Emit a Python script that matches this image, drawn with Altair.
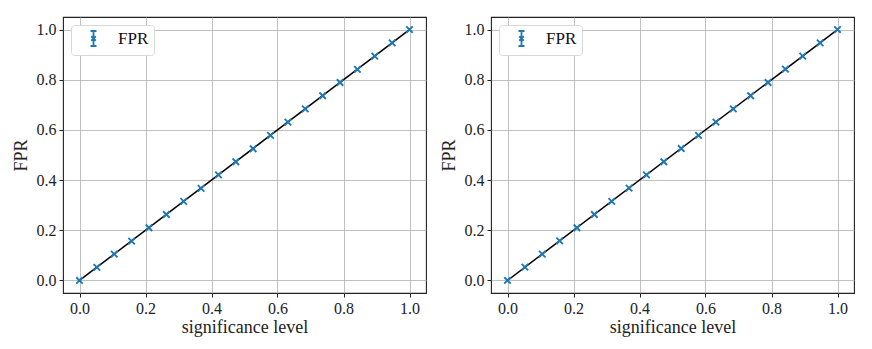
import altair as alt
import pandas as pd

sig = [0.0, 0.0526, 0.1053, 0.1579, 0.2105, 0.2632, 0.3158, 0.3684, 0.4211, 0.4737,
       0.5263, 0.5789, 0.6316, 0.6842, 0.7368, 0.7895, 0.8421, 0.8947, 0.9474, 1.0]
fpr_left = [0.0, 0.052, 0.105, 0.157, 0.210, 0.263, 0.315, 0.367, 0.421, 0.473,
            0.525, 0.578, 0.631, 0.684, 0.736, 0.789, 0.841, 0.894, 0.947, 1.0]
fpr_right = [0.0, 0.053, 0.105, 0.158, 0.210, 0.263, 0.315, 0.368, 0.421, 0.473,
             0.526, 0.578, 0.631, 0.684, 0.736, 0.789, 0.842, 0.894, 0.947, 1.0]
err_left = [0.0, 0.003, 0.004, 0.004, 0.004, 0.004, 0.005, 0.005, 0.005, 0.005,
            0.005, 0.005, 0.005, 0.005, 0.004, 0.004, 0.004, 0.003, 0.002, 0.0]
err_right = [0.0, 0.003, 0.004, 0.004, 0.004, 0.004, 0.005, 0.005, 0.005, 0.005,
             0.005, 0.005, 0.005, 0.005, 0.004, 0.004, 0.004, 0.003, 0.002, 0.0]
diag_x = [0.0, 1.0]

BLUE = "#1f77b4"
FONT = "Liberation Serif"
XSHAPE = "M-1,-1L1,1M-1,1L1,-1"
LEG_SYMBOL = "M0,-1L0,1M-0.4,-1L0.4,-1M-0.4,1L0.4,1M-0.3,-0.3L0.3,0.3M-0.3,0.3L0.3,-0.3"

xscale = alt.Scale(domain=[-0.05, 1.05], nice=False, zero=False)
yscale = alt.Scale(domain=[-0.05, 1.05], nice=False, zero=False)
ticks = [0.0, 0.2, 0.4, 0.6, 0.8, 1.0]


def panel(fpr, err):
    df = pd.DataFrame({
        "sig": sig,
        "fpr": fpr,
        "lo": [f - e for f, e in zip(fpr, err)],
        "hi": [f + e for f, e in zip(fpr, err)],
        "series": ["FPR"] * len(sig),
    })
    dline = pd.DataFrame({"x": diag_x, "y": diag_x})
    xax = alt.Axis(values=ticks, format=".1f", title="significance level")
    yax = alt.Axis(values=ticks, format=".1f", title="FPR")
    line = alt.Chart(dline).mark_line(color="black", strokeWidth=1.5).encode(
        x=alt.X("x:Q", scale=xscale, axis=xax),
        y=alt.Y("y:Q", scale=yscale, axis=yax),
    )
    bars = alt.Chart(df).mark_rule(color=BLUE, strokeWidth=1.2).encode(
        x="sig:Q", y="lo:Q", y2="hi:Q"
    )
    pts = alt.Chart(df).mark_point(shape=XSHAPE, filled=False, strokeWidth=1.9, size=42, opacity=1).encode(
        x="sig:Q",
        y="fpr:Q",
        color=alt.Color(
            "series:N",
            scale=alt.Scale(domain=["FPR"], range=[BLUE]),
            legend=alt.Legend(
                title=None, orient="top-left", offset=8,
                fillColor="white", strokeColor="#d8d8d8", cornerRadius=3,
                padding=5, symbolType=LEG_SYMBOL, symbolSize=225,
                symbolStrokeWidth=1.8, symbolFillColor="transparent",
                symbolOffset=9, labelOffset=16,
                labelFont=FONT, labelFontSize=17, labelColor="#111111",
            ),
        ),
    )
    return alt.layer(line, bars, pts).properties(width=363, height=276)


chart = alt.hconcat(panel(fpr_left, err_left), panel(fpr_right, err_right), spacing=12).resolve_legend(
    color="independent"
).properties(
    padding={"left": 3, "top": 8, "right": 5, "bottom": 5}
).configure_view(stroke="#222222", strokeWidth=1.1).configure_axis(
    grid=True, gridColor="#b0b0b0", gridWidth=0.8,
    domain=False, tickColor="#222222", tickSize=4, tickWidth=1,
    labelFont=FONT, labelFontSize=16, labelColor="#222222", labelPadding=3,
    titleFont=FONT, titleFontSize=18, titleFontWeight="normal", titleColor="#222222",
).configure_axisX(titlePadding=2).configure_axisY(titlePadding=6)

chart.save("out.html", embed_options={"renderer": "svg", "actions": False})
